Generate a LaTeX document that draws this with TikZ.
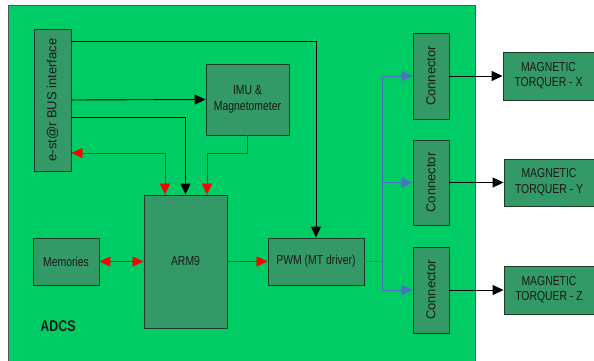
\documentclass[tikz,border=0pt]{standalone}
\usepackage{graphicx}
\usepackage{fontspec}
\setmainfont{Liberation Sans}
\usetikzlibrary{arrows.meta}
\definecolor{bggreen}{HTML}{00CC66}
\definecolor{boxfill}{HTML}{339966}
\definecolor{boxline}{HTML}{1E3A2A}
\definecolor{bluel}{HTML}{4A72C0}
\definecolor{frameg}{HTML}{555555}
\newcommand\hs[1]{\scalebox{0.8}[1]{#1}}
\newcommand\hst[1]{\scalebox{0.8}[1]{\begin{tabular}{@{}c@{}}#1\end{tabular}}}
\tikzset{
  blk/.style={draw=boxline, fill=boxfill, line width=0.9pt, inner sep=0pt, text=black!90,
    font=\fontsize{13}{15.5}\selectfont},
  tip/.style={-{Triangle[length=11pt,width=10pt]}},
  bothtip/.style={{Triangle[length=11pt,width=10pt]}-{Triangle[length=11pt,width=10pt]}},
  blackln/.style={draw=black, line width=0.9pt},
  redln/.style={draw=red, line width=0.6pt},
  blueln/.style={draw=bluel, line width=0.7pt},
}
\begin{document}
\begin{tikzpicture}[x=1pt,y=-1pt]
\clip (0,0) rectangle (594,360);
\fill[white] (0,0) rectangle (594,360);
\draw[fill=bggreen, draw=frameg, line width=1pt] (8,5) rectangle (475,372);

\node[blk, minimum width=37pt, minimum height=142pt] (bus) at (52.5,100) {};
\node[rotate=90, font=\fontsize{13}{15}\selectfont, text=black!90] (bustxt) at (bus.center) {e-st@r BUS interface};
\node[blk, minimum width=83pt, minimum height=71pt] (imu) at (247.5,99.5) {\hst{IMU \&\\Magnetometer}};
\node[blk, minimum width=83pt, minimum height=133pt] (arm) at (185.5,261.5) {\hs{ARM9}};
\node[blk, minimum width=66pt, minimum height=47pt] (mem) at (66,261.5) {\hs{Memories}};
\node[blk, minimum width=96pt, minimum height=47pt] (pwm) at (316,261.5) {\hs{PWM (MT driver)}};
\node[blk, minimum width=36pt, minimum height=86pt] (c1) at (431,76) {};
\node[blk, minimum width=36pt, minimum height=85pt] (c2) at (431,182.5) {};
\node[blk, minimum width=36pt, minimum height=86pt] (c3) at (431,290) {};
\foreach \c in {c1,c2,c3}{
  \node[rotate=90, font=\fontsize{13}{15}\selectfont, text=black!90] at (\c.center) {Connector};
}
\node[blk, minimum width=94pt, minimum height=48pt] (tx) at (550,76) {\hspace*{-3pt}\hst{MAGNETIC\\TORQUER - X}};
\node[blk, minimum width=94pt, minimum height=47pt] (ty) at (551,182.5) {\hspace*{-4pt}\hst{MAGNETIC\\TORQUER - Y}};
\node[blk, minimum width=94pt, minimum height=48pt] (tz) at (551,290) {\hspace*{-4pt}\hst{MAGNETIC\\TORQUER - Z}};
\node[font=\bfseries\fontsize{15.5}{18}\selectfont, text=black!90] (adcs) at (58,326) {\hs{ADCS}};

% black connectors
\draw[blackln, tip] ([yshift=59pt]bus.east) -| (pwm.north);
\draw[blackln, tip] (bus.east) -- (imu.west);
\draw[blackln, tip] ([yshift=-17pt]bus.east) -| (arm.north);
% red connectors
\draw[redln, bothtip] ([yshift=-53pt]bus.east) -| ([xshift=-20.5pt]arm.north);
\draw[redln, tip] (imu.south) -- ++(0,18) -| ([xshift=21.5pt]arm.north);
\draw[redln, bothtip] (mem.east) -- (arm.west);
\draw[redln, tip] (arm.east) -- (pwm.west);
% blue connectors
\draw[blueln] (pwm.east) -- ++(18,0) coordinate (bj);
\draw[blueln, tip] (bj) |- (c1.west);
\draw[blueln, tip] (bj) |- (c2.west);
\draw[blueln, tip] (bj) |- (c3.west);
% outputs
\draw[blackln, tip] (c1.east) -- (tx.west);
\draw[blackln, tip] (c2.east) -- (ty.west);
\draw[blackln, tip] (c3.east) -- (tz.west);
\end{tikzpicture}
\end{document}
